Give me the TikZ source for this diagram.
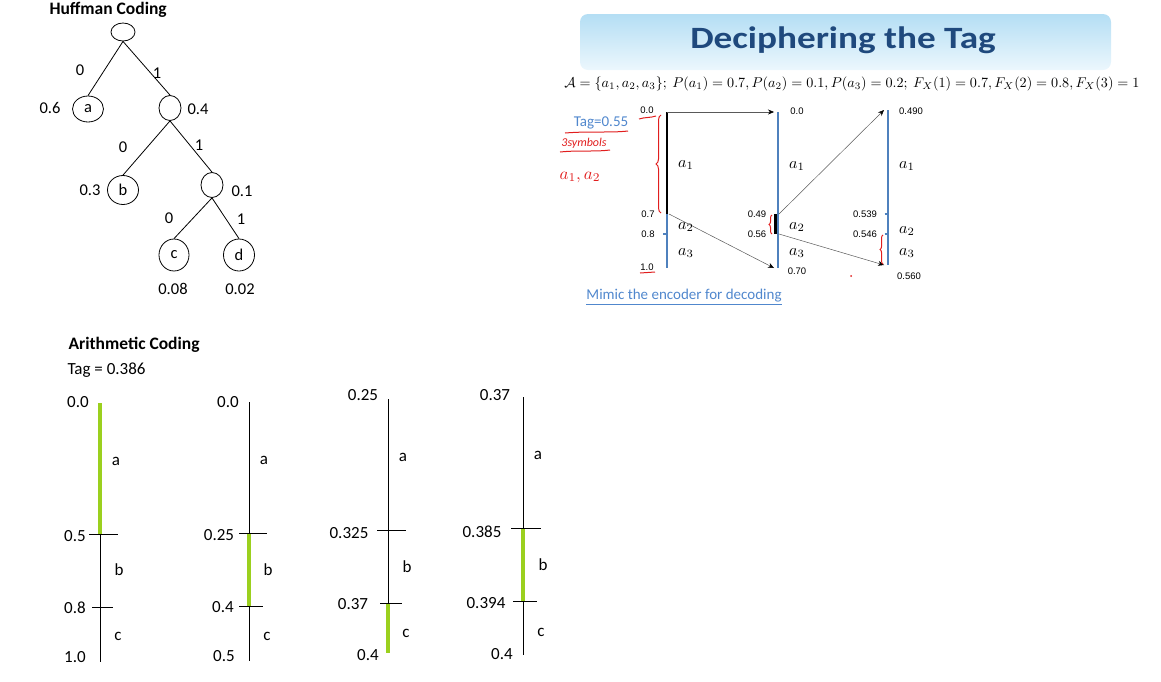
\documentclass[tikz,border=0pt]{standalone}
\usepackage{fontspec}
\setmainfont{Carlito}
\newfontfamily\lsans{Liberation Sans}
\usetikzlibrary{arrows.meta,shapes.geometric,decorations.pathreplacing,decorations.pathmorphing}
\definecolor{lgreen}{RGB}{155,208,30}
\definecolor{axblue}{RGB}{79,129,189}
\definecolor{linkblue}{RGB}{80,135,205}
\definecolor{titleblue}{RGB}{31,73,125}
\definecolor{hred}{RGB}{225,30,30}
\definecolor{boxtop}{RGB}{180,222,244}
\definecolor{boxbot}{RGB}{236,247,253}
\newcommand{\mymath}[1]{\scalebox{1.6}{$#1$}}
\begin{document}
\begin{tikzpicture}[x=1pt,y=-1pt,
  hnode/.style={draw, ellipse, inner sep=0pt, line width=0.8pt, font=\fontsize{16.5}{18}\selectfont},
  hlab/.style={font=\fontsize{16.5}{18}\selectfont},
  htitle/.style={font=\bfseries\fontsize{17.5}{19}\selectfont, anchor=west},
  alab/.style={font=\fontsize{17}{19}\selectfont},
  axisln/.style={line width=0.8pt},
  gseg/.style={lgreen, line width=3.2pt},
  baxis/.style={axblue, line width=2.4pt},
  kseg/.style={black, line width=2.4pt},
  garrow/.style={black!65, line width=0.5pt, -{Stealth[length=6pt,width=5pt,black]}},
  slab/.style={font=\lsans\fontsize{9.5}{10}\selectfont},
  mlab/.style={inner sep=1pt},
  hand/.style={hred, line width=1pt},
  edge/.style={line width=0.8pt}
]
\useasboundingbox (0,0) rectangle (1161,681);

% ---------------- Huffman coding ----------------
\node[htitle] (ht) at (46,10) {Huffman Coding};
\node[hnode, minimum width=24pt, minimum height=18pt] (root) at (123,32) {};
\node[hnode, minimum width=31pt, minimum height=26pt] (na) at (88,109) {a};
\node[hnode, minimum width=22pt, minimum height=25pt] (n04) at (170,108) {};
\node[hnode, minimum width=31pt, minimum height=29pt] (nb) at (123,190) {b};
\node[hnode, minimum width=22pt, minimum height=25pt] (n01) at (212,185) {};
\node[hnode, minimum width=30pt, minimum height=32pt] (nc) at (174,255) {c};
\node[hnode, minimum width=31pt, minimum height=32pt] (nd) at (239,255) {d};
\draw[edge] (root.south) -- (na.north);
\draw[edge] (root.south) -- (n04.north);
\draw[edge] (n04.south) -- (nb.north);
\draw[edge] (n04.south) -- (n01.north);
\draw[edge] (n01.south) -- (nc.north);
\draw[edge] (n01.south) -- (nd.north);
\node[hlab] (l1) at (80,70) {0};
\node[hlab] (l2) at (157,73) {1};
\node[hlab] (l3) at (50,108) {0.6};
\node[hlab] (l4) at (198,109) {0.4};
\node[hlab] (l5) at (123,147) {0};
\node[hlab] (l6) at (199,145) {1};
\node[hlab] (l7) at (90,190) {0.3};
\node[hlab] (l8) at (242,191) {0.1};
\node[hlab] (l9) at (169,218) {0};
\node[hlab] (l10) at (241,219) {1};
\node[hlab] (l11) at (173,289) {0.08};
\node[hlab] (l12) at (240,289) {0.02};

% ---------------- Arithmetic coding ----------------
\node[htitle, font=\bfseries\fontsize{17.5}{19}\selectfont] (at) at (65,345) {Arithmetic Coding};
\node[alab, anchor=west] (tag) at (64,370) {Tag = 0.386};

% axis 1
\coordinate (A1t) at (100,403); \coordinate (A1m) at (100,534);
\coordinate (A1n) at (100,607); \coordinate (A1b) at (100,662);
\draw[axisln] (A1t) -- (A1b);
\draw[gseg] (A1t) -- (A1m);
\draw[axisln] ([xshift=-11pt]A1m) -- ([xshift=18pt]A1m);
\draw[axisln] ([xshift=-8pt]A1n) -- ([xshift=13pt]A1n);
\node[alab] (x1) at (78,402) {0.0};
\node[alab] (x2) at (75,536) {0.5};
\node[alab] (x3) at (75,608) {0.8};
\node[alab] (x4) at (75,657) {1.0};
\node[alab] (x5) at (116,461) {a};
\node[alab] (x6) at (119,570) {b};
\node[alab] (x7) at (118,636) {c};

% axis 2
\coordinate (A2t) at (249,402); \coordinate (A2m) at (249,533);
\coordinate (A2n) at (249,606); \coordinate (A2b) at (249,661);
\draw[axisln] (A2t) -- (A2b);
\draw[gseg] (A2m) -- (A2n);
\draw[axisln] ([xshift=-10pt]A2m) -- ([xshift=18pt]A2m);
\draw[axisln] ([xshift=-10pt]A2n) -- ([xshift=14pt]A2n);
\node[alab] (y1) at (228,402) {0.0};
\node[alab] (y2) at (219,535) {0.25};
\node[alab] (y3) at (223,607) {0.4};
\node[alab] (y4) at (224,656) {0.5};
\node[alab] (y5) at (264,460) {a};
\node[alab] (y6) at (268,570) {b};
\node[alab] (y7) at (267,636) {c};

% axis 3
\coordinate (A3t) at (388,399); \coordinate (A3m) at (388,530);
\coordinate (A3n) at (388,603); \coordinate (A3b) at (388,653);
\draw[axisln] (A3t) -- (A3b);
\draw[gseg] (A3n) -- (A3b);
\draw[axisln] ([xshift=-11pt]A3m) -- ([xshift=18pt]A3m);
\draw[axisln] ([xshift=-8pt]A3n) -- ([xshift=14pt]A3n);
\node[alab] (z1) at (363,395) {0.25};
\node[alab] (z2) at (349,533) {0.325};
\node[alab] (z3) at (353,604) {0.37};
\node[alab] (z4) at (368,655) {0.4};
\node[alab] (z5) at (403,457) {a};
\node[alab] (z6) at (407,567) {b};
\node[alab] (z7) at (406,633) {c};

% axis 4
\coordinate (A4t) at (523,397); \coordinate (A4m) at (523,528);
\coordinate (A4n) at (523,601); \coordinate (A4b) at (523,655);
\draw[axisln] (A4t) -- (A4b);
\draw[gseg] (A4m) -- (A4n);
\draw[axisln] ([xshift=-12pt]A4m) -- ([xshift=18pt]A4m);
\draw[axisln] ([xshift=-10pt]A4n) -- ([xshift=14pt]A4n);
\node[alab] (w1) at (495,395) {0.37};
\node[alab] (w2) at (482,532) {0.385};
\node[alab] (w3) at (486,603) {0.394};
\node[alab] (w4) at (502,654) {0.4};
\node[alab] (w5) at (538,455) {a};
\node[alab] (w6) at (543,565) {b};
\node[alab] (w7) at (541,632) {c};

% ---------------- Deciphering the Tag ----------------
\shade[top color=boxtop, bottom color=boxbot, rounded corners=8pt] (580,14) rectangle (1111,70);
\node[font=\bfseries\fontsize{31}{33}\selectfont, text=titleblue] (dt) at (843,40) {\scalebox{1.2}[1]{Deciphering the Tag}};
\node (form) at (852,84) {\resizebox{575pt}{!}{$\mathcal{A}=\{a_1,a_2,a_3\};\ P(a_1)=0.7, P(a_2)=0.1, P(a_3)=0.2;\ F_X(1)=0.7, F_X(2)=0.8, F_X(3)=1$}};

% right-panel axes
\coordinate (B1t) at (667,112); \coordinate (B1m) at (667,214);
\coordinate (B1n) at (667,234); \coordinate (B1b) at (667,268);
\draw[baxis] (B1m) -- (B1b);
\draw[kseg] (B1t) -- (B1m);
\draw[axblue, line width=1.5pt] ([xshift=-4pt]B1n) -- (B1n);

\coordinate (B2t) at (778,112); \coordinate (B2m) at (778,214);
\coordinate (B2n) at (778,234); \coordinate (B2b) at (778,268);
\draw[baxis] (B2t) -- (B2b);
\draw[kseg] ([xshift=-2.5pt]B2m) -- ([xshift=-2.5pt]B2n);

\coordinate (B3t) at (888,110); \coordinate (B3m) at (888,214);
\coordinate (B3n) at (888,234); \coordinate (B3b) at (888,265);
\draw[baxis] (B3t) -- (B3b);
\draw[axblue, line width=1.5pt] ([xshift=-3.5pt]B3m) -- (B3m);
\draw[axblue, line width=1.5pt] ([xshift=-3.5pt]B3n) -- (B3n);

% connectors
\draw[garrow] (B1t) -- ([xshift=-4pt]B2t);
\draw[garrow] ([xshift=2pt]B1m) -- ([xshift=-4pt]B2b);
\draw[garrow] ([xshift=1pt]B2m) -- ([xshift=-4pt]B3t);
\draw[garrow] ([xshift=1pt]B2n) -- ([xshift=-4pt]B3b);

% small labels
\node[slab] (s1) at (647,110) {0.0};
\node[slab] (s2) at (648,214) {0.7};
\node[slab] (s3) at (648,234) {0.8};
\node[slab] (s4) at (647,267) {1.0};
\node[slab] (s5) at (797,111) {0.0};
\node[slab] (s6) at (757,214) {0.49};
\node[slab] (s7) at (757,234) {0.56};
\node[slab] (s8) at (797,271) {0.70};
\node[slab] (s9) at (911,111) {0.490};
\node[slab] (s10) at (865,214) {0.539};
\node[slab] (s11) at (865,234) {0.546};
\node[slab] (s12) at (909,276) {0.560};
\node[mlab] (m1) at (686,165) {\mymath{a_1}};
\node[mlab] (m2) at (686,227) {\mymath{a_2}};
\node[mlab] (m3) at (686,253) {\mymath{a_3}};
\node[mlab] (m4) at (797,166) {\mymath{a_1}};
\node[mlab] (m5) at (797,227) {\mymath{a_2}};
\node[mlab] (m6) at (797,253) {\mymath{a_3}};
\node[mlab] (m7) at (907,166) {\mymath{a_1}};
\node[mlab] (m8) at (907,231) {\mymath{a_2}};
\node[mlab] (m9) at (907,253) {\mymath{a_3}};

% handwritten annotations
\node[font=\fontsize{15}{16}\selectfont, text=linkblue] (tg) at (601,123) {Tag=0.55};
\node[font=\itshape\fontsize{12}{13}\selectfont, text=hred] (sy) at (584,143) {3symbols};
\node[text=hred] (aa) at (580,177) {\scalebox{1.7}{$a_{1}, a_{2}$}};
\draw[hand] (565,133) .. controls (590,131) and (610,133) .. (628,131);
\draw[hand] (560,152) .. controls (580,150) and (595,152) .. (610,150);
\draw[hand] (639,119) .. controls (645,117) and (650,118) .. (656,116);
\draw[hand, decorate, decoration={brace, amplitude=5pt}] (661,213) -- (661,115);
\draw[hand] (640,273) -- (655,272);
\draw[hand, decorate, decoration={brace, amplitude=3pt}] (772,234) -- (772,215);
\draw[hand, decorate, decoration={brace, amplitude=3pt}] (883,264) -- (883,235);
\fill[hred] (851,276) circle (1pt);

\node[font=\fontsize{15}{16}\selectfont, text=linkblue] (mimic) at (684,297) {\underline{Mimic the encoder for decoding}};
\end{tikzpicture}
\end{document}
